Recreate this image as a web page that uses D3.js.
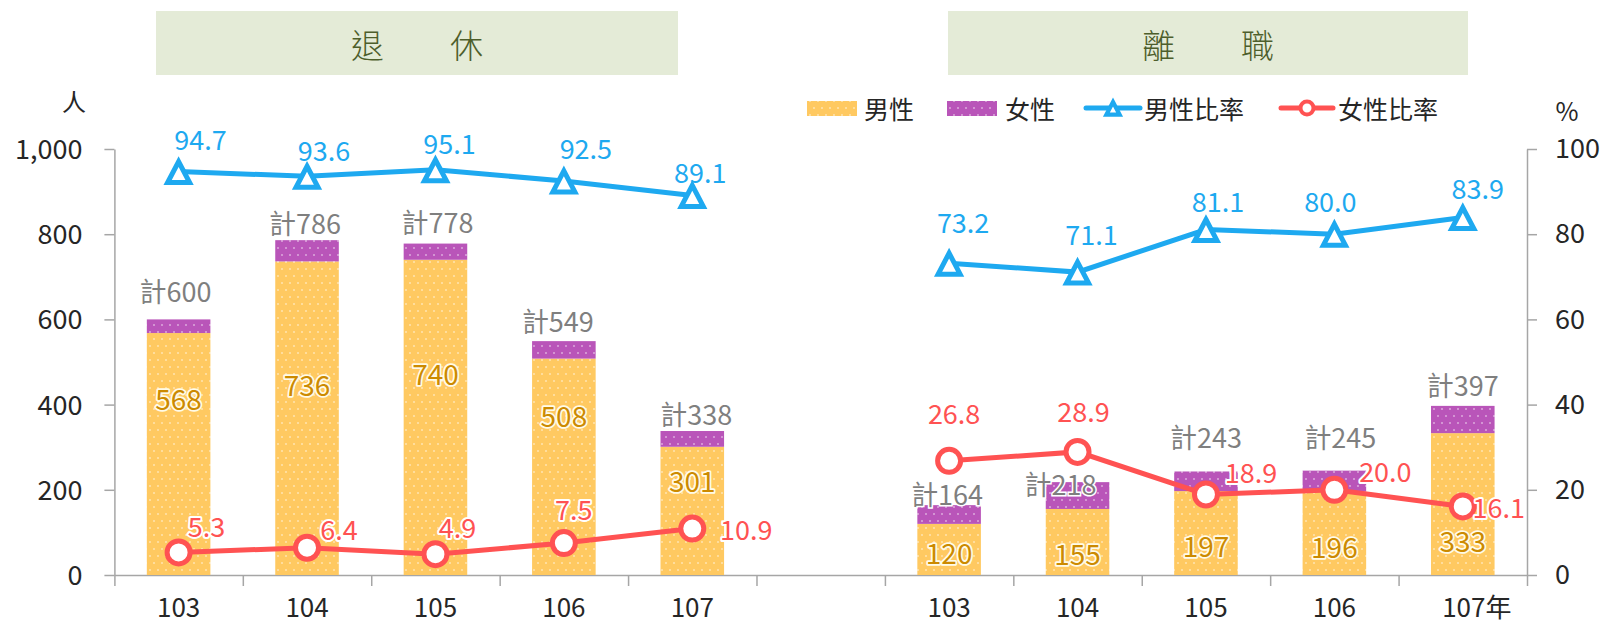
<!DOCTYPE html>
<html>
<head>
<meta charset="utf-8">
<script src="https://cdn.jsdelivr.net/npm/d3@7"></script>
<style>
  body { margin: 0; background: #fff; }
  svg text { font-family: "Noto Sans CJK TC", "Noto Sans", sans-serif; }
</style>
</head>
<body>
<svg id="chart"></svg>
<script>
// ---- data ----
const years = ["103", "104", "105", "106", "107"];
const slotLabels = ["103", "104", "105", "106", "107", "", "103", "104", "105", "106", "107年"];
const groupTitles = ["退　　休", "離　　職"];

const retireMale = [568, 736, 740, 508, 301];
const retireFemale = [32, 50, 38, 41, 37];
const retireMaleRate = [94.7, 93.6, 95.1, 92.5, 89.1];
const retireFemaleRate = [5.3, 6.4, 4.9, 7.5, 10.9];

const leaveMale = [120, 155, 197, 196, 333];
const leaveFemale = [44, 63, 46, 49, 64];
const leaveMaleRate = [73.2, 71.1, 81.1, 80.0, 83.9];
const leaveFemaleRate = [26.8, 28.9, 18.9, 20.0, 16.1];

const leftTicks = [0, 200, 400, 600, 800, 1000];
const rightTicks = [0, 20, 40, 60, 80, 100];

// ---- hand-placed label nudges (like the original Excel chart) ----
const maleLabelAt = [415, 448, 474, 376, 223, null, 55, 52, 70, 68, 82];   // in people
const totalNudge = [[-3, -29], [-2, -18], [2, -22], [-6, -21], [4, -18], null,
                    [-2, -12], [-17, 1], [0, -35], [6, -34], [0, -21]];
const maleRateNudge = [[22, -33], [17, -27], [14, -27], [22, -33], [8, -24], null,
                       [14, -42], [14, -39], [12, -29], [-4, -34], [15, -30]];
const femaleRateNudge = [[28, -27], [32, -19], [22, -28], [10, -35], [54, 0], null,
                         [5, -48], [6, -41], [45, -23], [51, -19], [36, 0]];

const width = 1602, height = 627;
const margin = { left: 114.4, right: 1527, top: 149, bottom: 575 };

const COLORS = {
  male: "#ffc961", female: "#b955b9", blue: "#1ea9f0", red: "#ff5252",
  axis: "#a6a6a6", text: "#262626", total: "#7f7f7f", maleText: "#cc8a00",
  titleBg: "#e4ebd7", titleText: "#4d5e2b"
};

// build rows, group 0 in slots 0-4, group 1 in slots 6-10
const rows = [];
[[retireMale, retireFemale, retireMaleRate, retireFemaleRate],
 [leaveMale, leaveFemale, leaveMaleRate, leaveFemaleRate]].forEach(([m, f, mr, fr], g) => {
  years.forEach((y, i) => {
    rows.push({ group: g, slot: g * 6 + i, year: y, male: m[i], female: f[i],
      total: m[i] + f[i], maleRate: mr[i], femaleRate: fr[i] });
  });
});

const svg = d3.select("#chart").attr("width", width).attr("height", height);

// scales
const xSlot = d3.scaleLinear().domain([0, 11]).range([margin.left, margin.right]);
const step = xSlot(1) - xSlot(0);
const cx = s => xSlot(s + 0.5);
const barW = step * 0.495;
const yL = d3.scaleLinear().domain([0, 1000]).range([margin.bottom, margin.top]);
const yR = d3.scaleLinear().domain([0, 100]).range([margin.bottom, margin.top]);

// dotted fill patterns
const defs = svg.append("defs");
[["dotMale", COLORS.male], ["dotFemale", COLORS.female]].forEach(([id, c]) => {
  const p = defs.append("pattern").attr("id", id)
    .attr("width", 8).attr("height", 14).attr("patternUnits", "userSpaceOnUse");
  p.append("rect").attr("width", 8).attr("height", 14).attr("fill", c);
  p.append("circle").attr("cx", 2).attr("cy", 3).attr("r", 0.8).attr("fill", "#fff").attr("opacity", 0.85);
  p.append("circle").attr("cx", 6).attr("cy", 10).attr("r", 0.8).attr("fill", "#fff").attr("opacity", 0.85);
});

// title boxes
const titleBoxes = [[156, 678], [948, 1468]];
groupTitles.forEach((t, i) => {
  const [x0, x1] = titleBoxes[i];
  svg.append("rect").attr("x", x0).attr("y", 11).attr("width", x1 - x0).attr("height", 64)
    .attr("fill", COLORS.titleBg);
  svg.append("text").attr("x", (x0 + x1) / 2).attr("y", 44)
    .attr("text-anchor", "middle").attr("dominant-baseline", "central")
    .attr("font-size", 33).attr("font-weight", 300).attr("fill", COLORS.titleText).text(t);
});

// axes
const styleAxis = g => {
  g.selectAll(".domain").attr("stroke", COLORS.axis).attr("stroke-width", 1.5);
  g.selectAll(".tick line").attr("stroke", COLORS.axis).attr("stroke-width", 1.5);
  g.selectAll(".tick text").attr("fill", COLORS.text).attr("font-size", 27)
    .style("font-family", '"Noto Sans CJK TC", "Noto Sans", sans-serif');
};

svg.append("g").attr("transform", `translate(0,${margin.bottom})`)
  .call(d3.axisBottom(xSlot).tickValues(d3.range(0, 12)).tickFormat("").tickSize(11).tickSizeOuter(0))
  .call(styleAxis);

svg.append("g").attr("transform", `translate(${margin.left},0)`)
  .call(d3.axisLeft(yL).tickValues(leftTicks).tickFormat(d3.format(",")).tickSize(10).tickSizeOuter(0).tickPadding(22))
  .call(styleAxis)
  .selectAll(".tick text").attr("dy", "0.35em");

svg.append("g").attr("transform", `translate(${margin.right},0)`)
  .call(d3.axisRight(yR).tickValues(rightTicks).tickSize(10).tickSizeOuter(0).tickPadding(18))
  .call(styleAxis);

// category labels
svg.append("g").selectAll("text").data(slotLabels).join("text")
  .attr("x", (d, i) => cx(i) + (d.endsWith("年") ? 14 : 0))
  .attr("y", 617).attr("text-anchor", "middle")
  .attr("font-size", 26).attr("fill", COLORS.text).text(d => d);

// unit labels
svg.append("text").attr("x", 74).attr("y", 100).attr("text-anchor", "middle")
  .attr("dominant-baseline", "central").attr("font-size", 24).attr("fill", COLORS.text).text("人");
svg.append("text").attr("x", 1567).attr("y", 110).attr("text-anchor", "middle")
  .attr("dominant-baseline", "central").attr("font-size", 25).attr("fill", COLORS.text).text("%");

// bars
const bars = svg.append("g");
bars.selectAll(".male").data(rows).join("rect").attr("class", "male")
  .attr("x", d => cx(d.slot) - barW / 2).attr("width", barW)
  .attr("y", d => yL(d.male)).attr("height", d => yL(0) - yL(d.male))
  .attr("fill", "url(#dotMale)");
bars.selectAll(".female").data(rows).join("rect").attr("class", "female")
  .attr("x", d => cx(d.slot) - barW / 2).attr("width", barW)
  .attr("y", d => yL(d.total)).attr("height", d => yL(d.male) - yL(d.total))
  .attr("fill", "url(#dotFemale)");

// total labels
svg.append("g").selectAll("text").data(rows).join("text")
  .attr("x", d => cx(d.slot) + totalNudge[d.slot][0])
  .attr("y", d => yL(d.total) + totalNudge[d.slot][1])
  .attr("text-anchor", "middle").attr("dominant-baseline", "central")
  .attr("font-size", 27).attr("fill", COLORS.total)
  .attr("stroke", "#fff").attr("stroke-width", 3).attr("paint-order", "stroke")
  .text(d => "計" + d.total);

// male value labels inside bars
svg.append("g").selectAll("text").data(rows).join("text")
  .attr("x", d => cx(d.slot))
  .attr("y", d => yL(maleLabelAt[d.slot]))
  .attr("text-anchor", "middle").attr("dominant-baseline", "central")
  .attr("font-size", 28).attr("fill", COLORS.maleText)
  .attr("stroke", "#fffbe8").attr("stroke-width", 3.5).attr("stroke-linejoin", "round")
  .attr("paint-order", "stroke")
  .text(d => d.male);

// rate lines
const lineM = d3.line().x(d => cx(d.slot)).y(d => yR(d.maleRate));
const lineF = d3.line().x(d => cx(d.slot)).y(d => yR(d.femaleRate));
const byGroup = d3.groups(rows, d => d.group).map(([, v]) => v);

const lines = svg.append("g");
byGroup.forEach(v => {
  lines.append("path").attr("d", lineM(v)).attr("fill", "none")
    .attr("stroke", COLORS.blue).attr("stroke-width", 5);
  lines.append("path").attr("d", lineF(v)).attr("fill", "none")
    .attr("stroke", COLORS.red).attr("stroke-width", 5);
});

const triPath = "M0,-10L11,11L-11,11Z";
svg.append("g").selectAll("path").data(rows).join("path")
  .attr("transform", d => `translate(${cx(d.slot)},${yR(d.maleRate)})`)
  .attr("d", triPath).attr("fill", "#fff")
  .attr("stroke", COLORS.blue).attr("stroke-width", 5);

svg.append("g").selectAll("circle").data(rows).join("circle")
  .attr("cx", d => cx(d.slot)).attr("cy", d => yR(d.femaleRate)).attr("r", 11.5)
  .attr("fill", "#fff").attr("stroke", COLORS.red).attr("stroke-width", 5);

// rate labels
svg.append("g").selectAll("text").data(rows).join("text")
  .attr("x", d => cx(d.slot) + maleRateNudge[d.slot][0])
  .attr("y", d => yR(d.maleRate) + maleRateNudge[d.slot][1])
  .attr("text-anchor", "middle").attr("dominant-baseline", "central")
  .attr("font-size", 27).attr("fill", COLORS.blue)
  .text(d => d.maleRate.toFixed(1));

svg.append("g").selectAll("text").data(rows).join("text")
  .attr("x", d => cx(d.slot) + femaleRateNudge[d.slot][0])
  .attr("y", d => yR(d.femaleRate) + femaleRateNudge[d.slot][1])
  .attr("text-anchor", "middle").attr("dominant-baseline", "central")
  .attr("font-size", 27).attr("fill", COLORS.red)
  .attr("stroke", "#fff").attr("stroke-width", 4).attr("stroke-linejoin", "round")
  .attr("paint-order", "stroke")
  .text(d => d.femaleRate.toFixed(1));

// legend
const legend = svg.append("g").attr("font-size", 25).attr("fill", COLORS.text);
const legendY = 108;
legend.append("rect").attr("x", 807).attr("y", legendY - 7).attr("width", 50).attr("height", 15)
  .attr("fill", "url(#dotMale)");
legend.append("text").attr("x", 864).attr("y", legendY).attr("dominant-baseline", "central").text("男性");
legend.append("rect").attr("x", 947).attr("y", legendY - 7).attr("width", 50).attr("height", 15)
  .attr("fill", "url(#dotFemale)");
legend.append("text").attr("x", 1005).attr("y", legendY).attr("dominant-baseline", "central").text("女性");

legend.append("line").attr("x1", 1086).attr("x2", 1140).attr("y1", legendY).attr("y2", legendY)
  .attr("stroke", COLORS.blue).attr("stroke-width", 5).attr("stroke-linecap", "round");
legend.append("path").attr("d", triPath)
  .attr("transform", `translate(1113,${legendY}) scale(0.6)`)
  .attr("fill", "#fff").attr("stroke", COLORS.blue).attr("stroke-width", 7);
legend.append("text").attr("x", 1144).attr("y", legendY).attr("dominant-baseline", "central").text("男性比率");

legend.append("line").attr("x1", 1281).attr("x2", 1333).attr("y1", legendY).attr("y2", legendY)
  .attr("stroke", COLORS.red).attr("stroke-width", 5).attr("stroke-linecap", "round");
legend.append("circle").attr("cx", 1307).attr("cy", legendY).attr("r", 6.5)
  .attr("fill", "#fff").attr("stroke", COLORS.red).attr("stroke-width", 4);
legend.append("text").attr("x", 1338).attr("y", legendY).attr("dominant-baseline", "central").text("女性比率");
</script>
</body>
</html>
